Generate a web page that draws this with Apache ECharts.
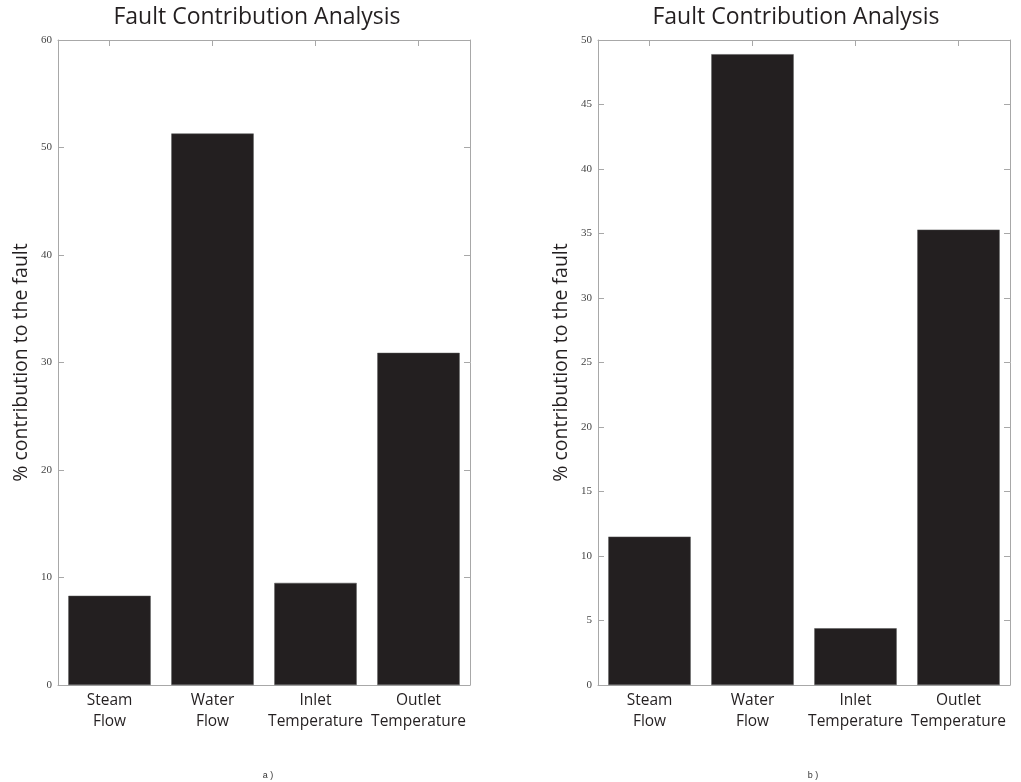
<!DOCTYPE html>
<html>
<head>
<meta charset="utf-8">
<script src="https://cdn.jsdelivr.net/npm/echarts@6/dist/echarts.min.js"></script>
<style>html,body{margin:0;padding:0;background:#fff;}#c{width:1021px;height:782px;}</style>
</head>
<body>
<div id="c"></div>
<script>
const categories = ['Steam\nFlow', 'Water\nFlow', 'Inlet\nTemperature', 'Outlet\nTemperature'];
const valuesA = [8.3, 51.3, 9.5, 30.9];
const valuesB = [11.5, 48.9, 4.4, 35.3];
const axisA = { min: 0, max: 60, interval: 10 };
const axisB = { min: 0, max: 50, interval: 5 };
const titleText = 'Fault Contribution Analysis';
const yName = '% contribution to the fault';
const captions = ['a )', 'b )'];

const chart = echarts.init(document.getElementById('c'), null, { renderer: 'canvas' });
const lineCol = '#a8a8a8';
const grids = [
  { left: 58, top: 40, width: 412, height: 645 },
  { left: 598, top: 40, width: 412, height: 645 }
];
const xAxes = [], yAxes = [], series = [];
[axisA, axisB].forEach((ax, i) => {
  xAxes.push({
    type: 'category', gridIndex: i, position: 'bottom', data: categories,
    axisLine: { onZero: false, lineStyle: { color: lineCol, width: 1 } },
    axisTick: { show: false },
    axisLabel: { color: '#231f20', fontFamily: 'Open Sans', fontSize: 15.5, lineHeight: 21, margin: 5, interval: 0 }
  });
  xAxes.push({
    type: 'category', gridIndex: i, position: 'top', data: categories,
    axisLine: { show: true, onZero: false, lineStyle: { color: lineCol, width: 1 } },
    axisTick: { show: true, inside: true, alignWithLabel: true, interval: 0, length: 6, lineStyle: { color: lineCol, width: 1 } },
    axisLabel: { show: false }
  });
  yAxes.push({
    type: 'value', gridIndex: i, position: 'left', min: ax.min, max: ax.max, interval: ax.interval,
    name: yName, nameLocation: 'middle', nameGap: 27, nameRotate: 90,
    nameTextStyle: { fontFamily: 'Open Sans', fontSize: 19.5, color: '#231f20' },
    axisLine: { show: true, onZero: false, lineStyle: { color: lineCol, width: 1 } },
    axisTick: { show: true, inside: true, length: 6, lineStyle: { color: lineCol } },
    axisLabel: { color: '#444', fontFamily: 'Liberation Serif', fontSize: 11, margin: 6 },
    splitLine: { show: false }
  });
  yAxes.push({
    type: 'value', gridIndex: i, position: 'right', min: ax.min, max: ax.max, interval: ax.interval,
    axisLine: { show: true, onZero: false, lineStyle: { color: lineCol, width: 1 } },
    axisTick: { show: true, inside: true, length: 6, lineStyle: { color: lineCol } },
    axisLabel: { show: false },
    splitLine: { show: false }
  });
});
[valuesA, valuesB].forEach((vals, i) => {
  series.push({
    type: 'bar', xAxisIndex: i * 2, yAxisIndex: i * 2, data: vals,
    barWidth: '80%',
    itemStyle: { color: '#231f20', borderColor: '#555', borderWidth: 0.5 },
    silent: true
  });
});
chart.setOption({
  animation: false,
  backgroundColor: '#fff',
  title: [
    { text: titleText, left: 252, top: 1, textAlign: 'center',
      textStyle: { fontFamily: 'Open Sans', fontSize: 23, fontWeight: 'normal', color: '#231f20' } },
    { text: titleText, left: 791, top: 1, textAlign: 'center',
      textStyle: { fontFamily: 'Open Sans', fontSize: 23, fontWeight: 'normal', color: '#231f20' } },
    { text: captions[0], left: 263, top: 766, textAlign: 'center',
      textStyle: { fontFamily: 'Liberation Sans', fontSize: 9, fontWeight: 'normal', color: '#333' } },
    { text: captions[1], left: 808, top: 766, textAlign: 'center',
      textStyle: { fontFamily: 'Liberation Sans', fontSize: 9, fontWeight: 'normal', color: '#333' } }
  ],
  grid: grids,
  xAxis: xAxes,
  yAxis: yAxes,
  series: series
});
</script>
</body>
</html>
